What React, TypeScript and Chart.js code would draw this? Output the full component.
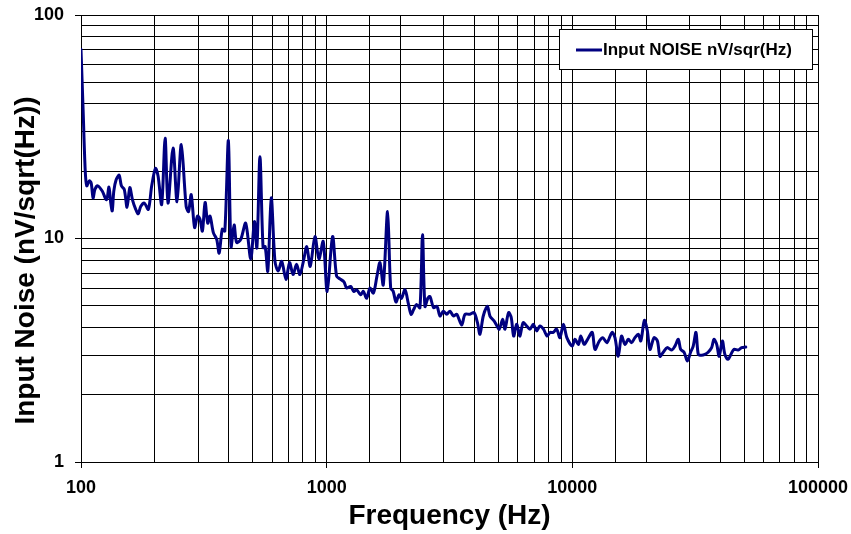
import React, { useEffect, useRef } from 'react';
import { Chart, registerables } from 'chart.js';

Chart.register(...registerables);

// Frequency (Hz) of each sample
const FREQ_HZ = [
  100, 102, 104, 105.5, 108, 110, 112, 114, 117, 122,
  127, 130, 132, 134, 136, 139, 143, 146, 150, 154,
  158, 162, 167, 171, 175, 181, 188, 194, 201, 206,
  213, 220, 226, 237, 246, 256, 268, 274, 281, 290,
  298, 305, 312, 320, 328, 335, 346, 357, 365, 376,
  385, 398, 408, 420, 430, 447, 468, 491, 508, 520,
  535, 551, 562, 576, 595, 616, 635, 656, 683, 706,
  730, 754, 778, 804, 830, 857, 896, 930, 968, 1005,
  1057, 1097, 1132, 1176, 1206, 1252, 1290, 1324, 1374, 1410,
  1455, 1500, 1550, 1603, 1648, 1700, 1770, 1822, 1866, 1915,
  1970, 2016, 2083, 2154, 2206, 2262, 2322, 2397, 2455, 2512,
  2580, 2634, 2723, 2812, 2892, 2985, 3080, 3177, 3280, 3385,
  3545, 3656, 3831, 3980, 4110, 4207, 4340, 4510, 4620, 4800,
  4935, 5040, 5210, 5317, 5500, 5640, 5770, 5930, 6040, 6119,
  6310, 6520, 6720, 6940, 7160, 7379, 7630, 7890, 8104, 8360,
  8630, 8903, 9200, 9500, 9990, 10250, 10600, 10820, 11180, 11540,
  12050, 12360, 12880, 13300, 13830, 14500, 14910, 15380, 15860, 16370,
  16900, 17420, 17980, 18560, 19000, 19650, 20200, 20700, 21500, 22200,
  22730, 23450, 24330, 25400, 26160, 27000, 27600, 28500, 29400, 30300,
  31050, 31870, 32570, 33600, 34650, 35700, 36900, 37700, 38700, 39600,
  40800, 41780, 43000, 44400, 45500, 47300, 48900, 50800,
];

// Input noise (nV/sqrt(Hz)) at each frequency
const NOISE = [
  70, 37.7, 20.3, 17.2, 18.1, 17.7, 15.2, 16.6, 17.2, 16.3,
  14.9, 17.0, 14.6, 13.3, 16.3, 18.3, 19.2, 17.2, 16.6, 13.8,
  16.9, 14.9, 13.5, 12.9, 13.9, 14.4, 13.5, 17.2, 20.6, 19.0,
  14.2, 28.1, 14.4, 25.4, 14.6, 26.3, 13.9, 13.2, 15.7, 11.2,
  12.6, 12.2, 10.8, 14.5, 11.7, 12.6, 10.6, 9.9, 8.6, 11.0,
  10.8, 27.4, 9.2, 11.5, 9.6, 9.9, 11.7, 8.1, 11.9, 9.1,
  23.2, 9.1, 9.2, 7.15, 15.2, 7.9, 7.15, 7.9, 6.56, 7.8,
  6.9, 7.66, 6.9, 7.9, 9.2, 7.5, 10.2, 8.1, 9.7, 5.8,
  10.2, 6.8, 6.6, 6.4, 6.0, 6.1, 5.8, 5.9, 5.6, 5.8,
  5.4, 6.0, 5.7, 6.8, 7.8, 6.2, 13.2, 6.0, 5.8, 5.2,
  5.6, 5.4, 5.9, 5.07, 4.58, 4.82, 5.07, 4.9, 10.4, 4.97,
  5.4, 5.5, 4.9, 4.97, 4.5, 4.73, 4.58, 4.73, 4.5, 4.58,
  4.1, 4.58, 4.58, 4.66, 4.2, 3.73, 4.5, 4.97, 4.5, 4.28,
  4.06, 3.93, 4.35, 3.93, 4.66, 4.43, 3.66, 4.13, 3.86, 3.66,
  4.2, 4.06, 3.93, 4.13, 3.86, 4.06, 3.93, 3.66, 3.8, 3.8,
  3.93, 3.6, 4.13, 3.6, 3.3, 3.54, 3.36, 3.66, 3.36, 3.54,
  3.8, 3.19, 3.48, 3.6, 3.42, 3.8, 3.6, 2.97, 3.66, 3.36,
  3.54, 3.42, 3.6, 3.73, 3.48, 4.3, 3.86, 3.19, 3.6, 3.48,
  2.97, 3.1, 3.25, 3.17, 3.3, 3.54, 3.19, 3.1, 2.83, 3.1,
  3.3, 3.8, 3.03, 3.0, 3.03, 3.1, 3.25, 3.54, 3.36, 2.97,
  3.48, 3.03, 2.88, 3.06, 3.19, 3.17, 3.25, 3.27,
];

const X_MAJOR = [100, 1000, 10000, 100000];
const Y_MAJOR = [1, 10, 100];
const SERIES_LABEL = 'Input NOISE nV/sqr(Hz)';
const X_TITLE = 'Frequency (Hz)';
const Y_TITLE = 'Input Noise (nV/sqrt(Hz))';

const FONT = '"Liberation Sans", Arial, Helvetica, sans-serif';
const NAVY = '#000080';

export default function App() {
  const ref = useRef<HTMLCanvasElement>(null);

  useEffect(() => {
    const canvas = ref.current;
    if (!canvas) return;

    const zeroPad = (s: any) => {
      s.paddingTop = 0;
      s.paddingBottom = 0;
      s.paddingLeft = 0;
      s.paddingRight = 0;
    };

    const decorPlugin = {
      id: 'decor',
      afterDraw(chart: any) {
        const { ctx, chartArea } = chart;
        // y axis title
        ctx.save();
        ctx.translate(26, chartArea.top + (chartArea.bottom - chartArea.top) / 2 + 22);
        ctx.rotate(-Math.PI / 2);
        ctx.fillStyle = '#000000';
        ctx.font = `bold 28px ${FONT}`;
        ctx.textAlign = 'center';
        ctx.textBaseline = 'middle';
        ctx.fillText(Y_TITLE, 0, 0);
        ctx.restore();

        // legend box
        const w = 253;
        const h = 40;
        const x = Math.round(chartArea.right - 259);
        const y = Math.round(chartArea.top + 14);
        ctx.save();
        ctx.fillStyle = '#ffffff';
        ctx.fillRect(x, y, w, h);
        ctx.strokeStyle = '#000000';
        ctx.lineWidth = 1;
        ctx.strokeRect(x + 0.5, y + 0.5, w, h);
        ctx.strokeStyle = NAVY;
        ctx.lineWidth = 3;
        ctx.beginPath();
        ctx.moveTo(x + 17, y + 21);
        ctx.lineTo(x + 43, y + 21);
        ctx.stroke();
        ctx.fillStyle = '#000000';
        ctx.font = `bold 17px ${FONT}`;
        ctx.textBaseline = 'middle';
        ctx.textAlign = 'left';
        ctx.fillText(SERIES_LABEL, x + 44, y + 21);
        ctx.restore();
      },
    };

    const chart = new Chart(canvas, {
      type: 'line',
      data: {
        datasets: [
          {
            label: SERIES_LABEL,
            data: FREQ_HZ.map((f, i) => ({ x: f, y: NOISE[i] })),
            borderColor: NAVY,
            backgroundColor: NAVY,
            borderWidth: 3,
            pointRadius: 0,
            tension: 0.3,
            fill: false,
            borderJoinStyle: 'round',
            borderCapStyle: 'round',
          } as any,
        ],
      },
      options: {
        animation: false,
        responsive: false,
        layout: { padding: { top: 15, right: 33, bottom: 0, left: 0 } },
        plugins: {
          legend: { display: false },
          tooltip: { enabled: false },
        },
        scales: {
          x: {
            type: 'logarithmic',
            min: 100,
            max: 100000,
            position: 'bottom',
            afterFit: (s: any) => {
              s.height = 72;
              zeroPad(s);
            },
            border: { display: true, color: '#000', width: 1 },
            grid: {
              color: '#000',
              lineWidth: 1,
              tickLength: 6,
              tickColor: (c: any) =>
                c.tick && X_MAJOR.includes(Number(c.tick.value)) ? '#000' : 'rgba(0,0,0,0)',
            },
            ticks: {
              autoSkip: false,
              maxRotation: 0,
              padding: 9,
              color: '#000',
              font: { family: FONT, size: 18, weight: 'bold' },
              callback: (v: any) => (X_MAJOR.includes(Number(v)) ? String(v) : ''),
            },
            title: {
              display: true,
              text: X_TITLE,
              color: '#000',
              font: { family: FONT, size: 28, weight: 'bold' },
              padding: { top: 0, bottom: 1 },
            },
          },
          y: {
            type: 'logarithmic',
            min: 1,
            max: 100,
            position: 'left',
            afterFit: (s: any) => {
              s.width = 81;
              zeroPad(s);
            },
            border: { display: true, color: '#000', width: 1 },
            grid: {
              color: '#000',
              lineWidth: 1,
              tickLength: 6,
              tickColor: (c: any) =>
                c.tick && Y_MAJOR.includes(Number(c.tick.value)) ? '#000' : 'rgba(0,0,0,0)',
            },
            ticks: {
              autoSkip: false,
              padding: 11,
              color: '#000',
              font: { family: FONT, size: 18, weight: 'bold' },
              callback: (v: any) => (Y_MAJOR.includes(Number(v)) ? String(v) : ''),
            },
            title: { display: false, text: Y_TITLE },
          },
        },
      } as any,
      plugins: [decorPlugin],
    });

    return () => {
      chart.destroy();
    };
  }, []);

  return (
    <div style={{ position: 'absolute', left: 0, top: 0, width: 851, height: 534, background: '#fff' }}>
      <canvas ref={ref} width={851} height={534} style={{ display: 'block' }} />
    </div>
  );
}
